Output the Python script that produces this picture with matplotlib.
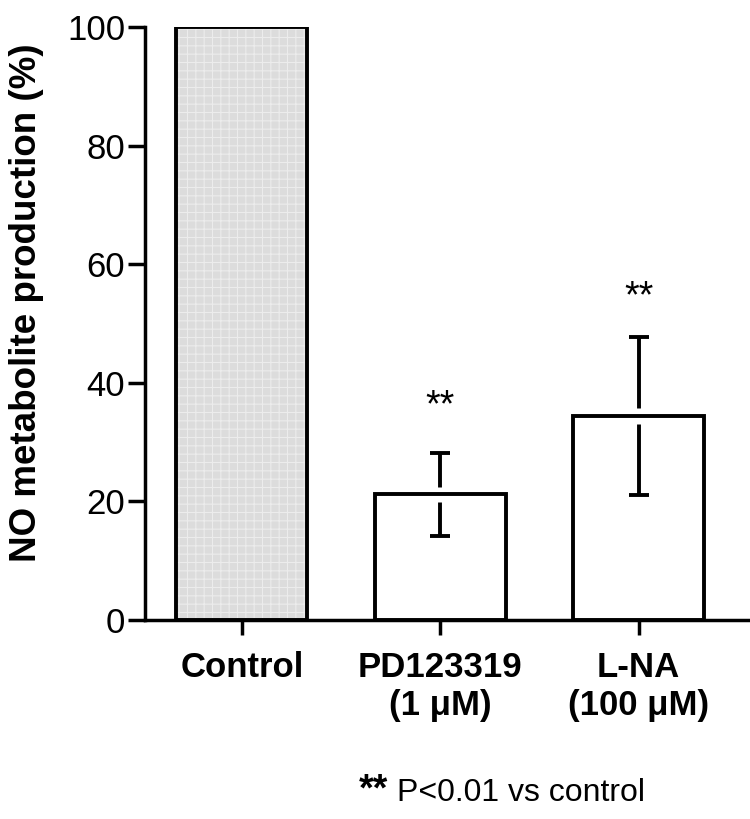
import matplotlib
matplotlib.use("Agg")
import matplotlib.pyplot as plt

plt.rcParams['font.family'] = ['Liberation Sans', 'DejaVu Sans']
plt.rcParams['hatch.linewidth'] = 0.8

categories = ["Control", "PD123319\n(1 \u03bcM)", "L-NA\n(100 \u03bcM)"]
values = [100.0, 21.2, 34.4]
errors = [0.0, 7.0, 13.3]
stars = ["", "**", "**"]
star_y = [0, 36.0, 54.5]
yticks = [0, 20, 40, 60, 80, 100]

fig = plt.figure(figsize=(7.5, 8.19), dpi=100)
ax = fig.add_axes([0.193, 0.243, 0.804, 0.724])

x = list(range(len(categories)))
w = 0.66
fills = ['#dcdcdc', 'white', 'white']
ax.bar(x, values, width=w, color=fills, edgecolor='none', zorder=1)
ax.bar(x[0], values[0], width=w, facecolor='none', edgecolor='#ececec',
       hatch='++', linewidth=0, zorder=2)

for i in range(1, len(x)):
    ax.errorbar(x[i], values[i], yerr=errors[i], fmt='none', ecolor='black',
                elinewidth=2.8, capsize=7.5, capthick=2.8, zorder=3)
    # small gap where the error bar crosses the bar top
    ax.vlines(x[i], values[i] - 1.3, values[i] + 1.3, color='white', linewidth=5, zorder=4)
    ax.text(x[i], star_y[i], stars[i], ha='center', va='center', fontsize=27, zorder=6)

ax.bar(x, values, width=w, facecolor='none', edgecolor='black', linewidth=2.8, zorder=5)

ax.set_xlim(-0.49, 2.55)
ax.set_ylim(0, 100)
ax.set_yticks(yticks)
ax.set_yticklabels([str(t) for t in yticks], fontsize=25)
ax.set_xticks(x)
ax.set_xticklabels(categories, fontsize=25, fontweight='bold', linespacing=1.2)
for s in ['top', 'right']:
    ax.spines[s].set_visible(False)
for s in ['left', 'bottom']:
    ax.spines[s].set_linewidth(2.5)
ax.tick_params(axis='y', length=12, width=2.5, pad=2)
ax.tick_params(axis='x', length=11, width=2.5, pad=11)

fig.text(0.012, 0.631, "NO metabolite production (%)", rotation=90, fontsize=26.5,
         fontweight='bold', ha='left', va='center')

fig.text(0.478, 0.022, "**", fontsize=27, fontweight='bold', ha='left', va='baseline')
fig.text(0.529, 0.022, "P<0.01 vs control", fontsize=23, ha='left', va='baseline')

fig.savefig("out.png", dpi=100)
